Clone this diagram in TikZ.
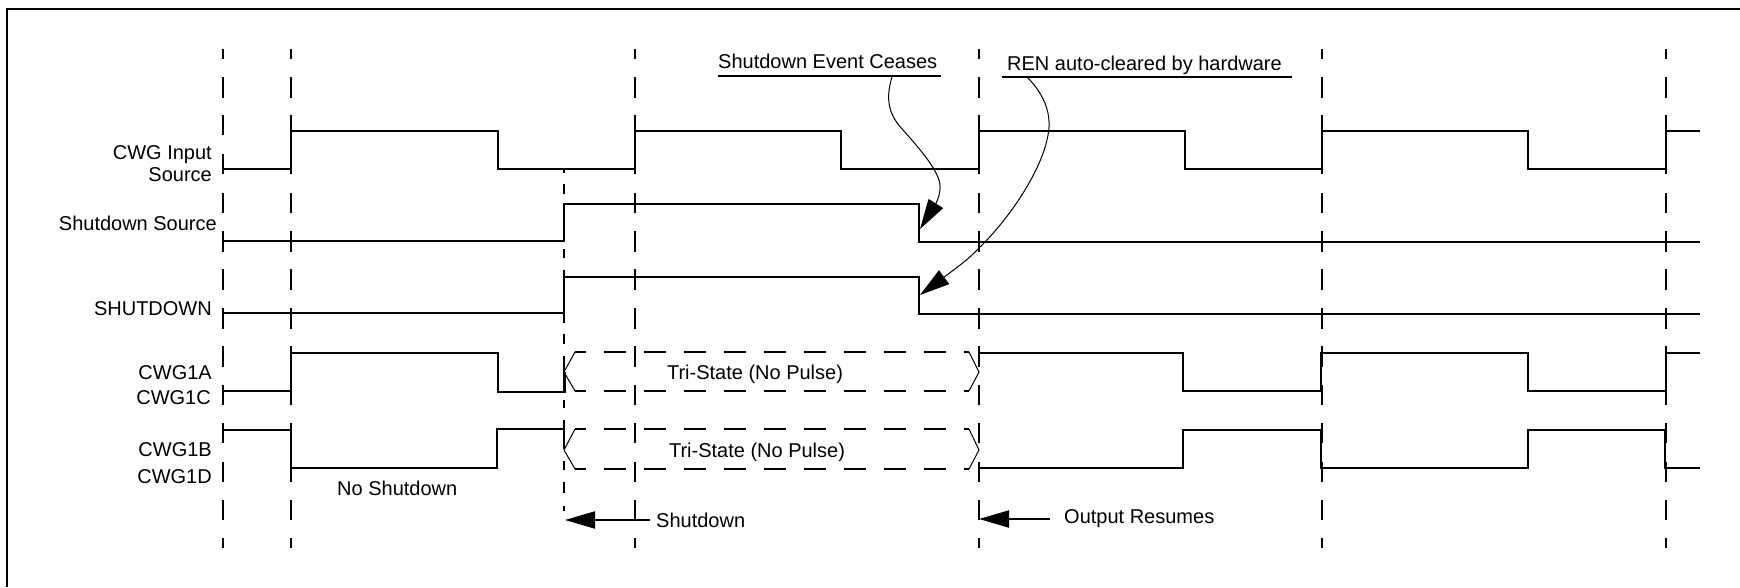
\documentclass[tikz,border=0pt]{standalone}
\usepackage{fontspec}
\setmainfont{Liberation Sans}
\usetikzlibrary{arrows.meta}
\tikzset{
  sig/.style={line width=2pt,line join=miter},
  grid/.style={line width=1.9pt},
  frame/.style={line width=2.4pt},
  lbl/.style={inner sep=0pt,font=\fontsize{20}{24}\selectfont,text height=14.5pt,text depth=0pt},
  lr/.style={lbl,anchor=east},
  ll/.style={lbl,anchor=west},
  tri/.style={line width=1.9pt,dash pattern=on 22pt off 18pt,dash phase=11pt},
  trid/.style={line width=1pt},
  call/.style={line width=1pt,-{Triangle[length=30pt,width=17pt]}},
  ptr/.style={line width=2pt,-{Triangle[length=30pt,width=17pt]}},
}
\begin{document}
\begin{tikzpicture}[x=1pt,y=-1pt]
\useasboundingbox (0,0) rectangle (1740,587);
% frame
\draw[frame] (7,587) -- (7,9) -- (1740,9);
% dashed time markers
\foreach \x in {223,291,635,979,1322,1666}{
  \foreach \a/\b in {49/59,77/98,115/135,154/174,193/213,231/252,269/290,308/329,346/367,385/405,423/443,462/482,500/520,538/548}{
    \draw[grid] (\x,\a) -- (\x,\b);
  }
}
\foreach \a/\b in {168/173,184/194,249/258,270/323,334/344,356/392,400/408,420/449,461/470,482/493,506/511}{
  \draw[grid] (564,\a) -- (564,\b);
}
% waveforms
\draw[sig] (223,169) -- (291,169) -- (291,131) -- (498,131) -- (498,169) -- (635,169) -- (635,131) -- (841,131) -- (841,169) -- (979,169) -- (979,131) -- (1185,131) -- (1185,169) -- (1322,169) -- (1322,131) -- (1528,131) -- (1528,169) -- (1666,169) -- (1666,131) -- (1700,131);
\draw[sig] (223,241) -- (564,241) -- (564,204) -- (919,204) -- (919,242) -- (1700,242);
\draw[sig] (223,313) -- (564,313) -- (564,277) -- (919,277) -- (919,314) -- (1700,314);
\draw[sig] (223,391) -- (291,391) -- (291,353) -- (498,353) -- (498,392) -- (565,392) -- (565,372);
\draw[sig] (979,353) -- (1183,353) -- (1183,391) -- (1321,391) -- (1321,353) -- (1528,353) -- (1528,391) -- (1666,391) -- (1666,353) -- (1700,353);
\draw[sig] (222,430) -- (291,430) -- (291,468) -- (497,468) -- (497,429) -- (565,429);
\draw[sig] (979,468) -- (1183,468) -- (1183,430) -- (1321,430) -- (1321,468) -- (1528,468) -- (1528,430) -- (1665,430) -- (1665,468) -- (1700,468);
% tri-state regions
\draw[tri] (575,352) -- (969,352);
\draw[tri] (575,391) -- (969,391);
\draw[tri] (575,429) -- (969,429);
\draw[tri] (575,469) -- (969,469);
\draw[trid] (575,352) -- (564,372) -- (575,391);
\draw[trid] (969,352) -- (979,372) -- (969,391);
\draw[trid] (575,429) -- (564,450) -- (575,469);
\draw[trid] (969,429) -- (979,450) -- (969,469);
\node[lbl] (tri1) at (755,372) {Tri-State (No Pulse)};
\node[lbl] (tri2) at (757,450) {Tri-State (No Pulse)};
% labels
\node[lr] (l1) at (212,152) {CWG Input};
\node[lr] (l2) at (212,174) {Source};
\node[lr] (l3) at (217,223) {Shutdown Source};
\node[lr] (l4) at (212,308) {SHUTDOWN};
\node[lr] (l5) at (212,372) {CWG1A};
\node[lr] (l6) at (211,397) {CWG1C};
\node[lr] (l7) at (212,449) {CWG1B};
\node[lr] (l8) at (212,476) {CWG1D};
\node[ll] (ns) at (337,488) {No Shutdown};
\node[ll] (sd) at (656,520) {Shutdown};
\node[ll] (or) at (1064,516) {Output Resumes};
\node[ll] (se) at (718,61) {Shutdown Event Ceases};
\node[ll] (re) at (1007,63) {REN auto-cleared by hardware};
% underlines
\coordinate (seL) at (718,76); \coordinate (seR) at (941,76);
\coordinate (reL) at (1002,77); \coordinate (reR) at (1292,77);
\draw[sig] (seL) -- (seR);
\draw[sig] (reL) -- (reR);
% callouts
\coordinate (c1s) at (892,77); \coordinate (c1e) at (920,229);
\coordinate (c2s) at (1027,77); \coordinate (c2e) at (920,295);
\draw[call] (c1s) .. controls (885,100) and (889,115) .. (903,130) .. controls (918,147) and (934,165) .. (939,180) .. controls (942,190) and (938,200) .. (935,205) -- (c1e);
\draw[call] (c2s) .. controls (1045,95) and (1052,115) .. (1048,135) .. controls (1042,170) and (1010,218) .. (979,248) .. controls (968,260) and (956,268) .. (943,278) -- (c2e);
% event arrows
\coordinate (a1t) at (650,520); \coordinate (a1h) at (565,520);
\coordinate (a2t) at (1050,519); \coordinate (a2h) at (979,519);
\draw[ptr] (a1t) -- (a1h);
\draw[ptr] (a2t) -- (a2h);
\end{tikzpicture}
\end{document}
